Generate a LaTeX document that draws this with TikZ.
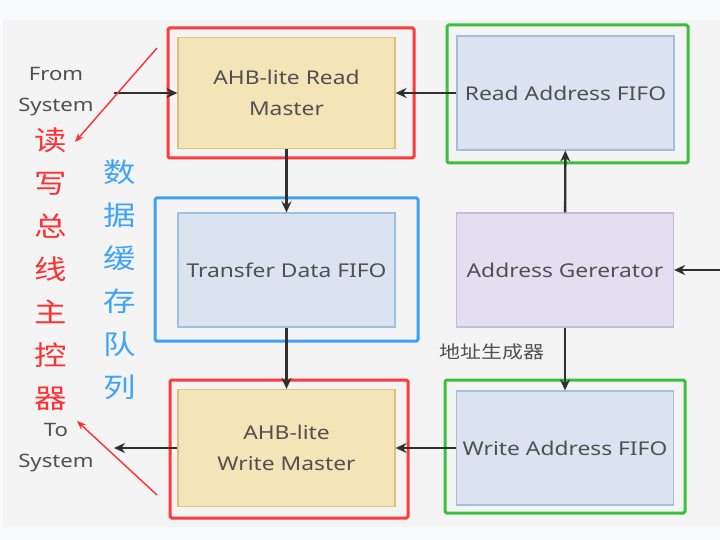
\documentclass[tikz,border=0pt]{standalone}
\usepackage{fontspec}
\setmainfont[FakeStretch=1.2]{Noto Sans}
\newfontfamily\cjk[FakeStretch=1.2]{Noto Sans CJK SC}
\usepackage{tikz}
\usetikzlibrary{
  arrows,
  arrows.meta,
  chains,
  scopes,
  positioning
}
\definecolor{bgout}{HTML}{F9FAFB}
\definecolor{panel}{HTML}{F4F4F4}
\definecolor{txtgray}{HTML}{505050}
\definecolor{wirecol}{HTML}{303030}
\definecolor{redframe}{HTML}{FF3B3B}
\definecolor{greenframe}{HTML}{3CBF3C}
\definecolor{blueframe}{HTML}{3DA2F7}
\definecolor{notered}{HTML}{FF3030}
\definecolor{noteblue}{HTML}{3FA4F8}
\definecolor{masterfill}{HTML}{F3E5B7}
\definecolor{masterdraw}{HTML}{DCC27A}
\definecolor{fifofill}{HTML}{DBE3F0}
\definecolor{fifodraw}{HTML}{9DC1DF}
\definecolor{genfill}{HTML}{E4DFF0}
\definecolor{gendraw}{HTML}{C9BADD}

\begin{document}
\begin{tikzpicture}[x=1pt,y=-1pt,
      master/.style={
         rectangle,
         minimum width=217pt,
         minimum height=112pt,
         line width=1.2pt,
         draw=masterdraw,
         fill=masterfill,
         text=txtgray,
         align=center,
         font=\fontsize{19}{31}\selectfont
      },
      fifo/.style={
         master,
         draw=fifodraw,
         fill=fifofill,
         minimum height=114pt
      },
      gen/.style={
         fifo,
         draw=gendraw,
         fill=genfill
      },
      frame/.style={
         rectangle,
         rounded corners=1.5pt,
         line width=3pt,
         draw=#1
      },
      label/.style={
         text=txtgray,
         align=center,
         font=\fontsize{18.5}{31}\selectfont
      },
      vtext/.style={
         text=#1,
         align=center,
         font=\cjk\fontsize{27}{43}\selectfont
      },
      point/.style={coordinate},>={Stealth[length=11pt,width=10pt]},
      tip/.style={->,line width=2.4pt,draw=wirecol},
      note/.style={-{Stealth[length=9pt,width=7pt]},line width=1.4pt,draw=notered}
    ]
    % background
    \fill[bgout] (0,0) rectangle (720,540);
    \fill[panel] (3,20) rectangle (720,527);
    \useasboundingbox (0,0) rectangle (720,540);

    % frames
    \node (frm1) [frame=redframe, minimum width=246pt, minimum height=130pt] at (291,93) {};
    \node (frm2) [frame=greenframe, minimum width=241pt, minimum height=138pt] at (567.5,94) {};
    \node (frm3) [frame=blueframe, minimum width=263pt, minimum height=143pt] at (286.5,269.5) {};
    \node (frm4) [frame=greenframe, minimum width=240pt, minimum height=133pt] at (565,446.5) {};
    \node (frm5) [frame=redframe, minimum width=238pt, minimum height=138pt] at (289,449) {};

    % blocks
    \node (rdm) [master, minimum height=111pt] at (286.5,93) {AHB-lite Read\\Master};
    \node (rdf) [fifo] at (565.5,93) {Read Address FIFO};
    \node (tdf) [fifo] at (286.5,270) {Transfer Data FIFO};
    \node (agen) [gen] at (565,270) {Address Gererator};
    \node (wrf) [fifo] at (565,448) {Write Address FIFO};
    \node (wrm) [master, minimum height=117pt] at (286.5,448) {AHB-lite\\Write Master};

    % outside ends
    \node (fromsys) [point] at (114,93) {};
    \node (tosys) [point] at (114,448) {};
    \node (extin) [point] at (724,270) {};

    % texts
    \node (fromlbl) [label] at (56,92) {From\\System};
    \node (tolbl) [label] at (56,448) {To\\System};
    \node (busctl) [vtext=notered] at (51,269) {读\\写\\总\\线\\主\\控\\器};
    \node (bufq) [vtext=noteblue] at (120,280) {数\\据\\缓\\存\\队\\列};
    \node (genlbl) [text=txtgray, font=\cjk\fontsize{17.5}{20}\selectfont] at (492,352) {地址生成器};

    \node (n1) [point] at (157,48) {};
    \node (n2) [point] at (75,142) {};
    \node (n3) [point] at (157,495) {};
    \node (n4) [point] at (77,421) {};

  { [start chain]
       \chainin (fromsys);
       \chainin (rdm)    [join=by tip];
  }
  { [start chain]
       \chainin (rdf);
       \chainin (rdm)    [join=by tip];
  }
  { [start chain]
       \chainin (rdm);
       \chainin (tdf)    [join=by tip];
  }
  { [start chain]
       \chainin (tdf);
       \chainin (wrm)    [join=by tip];
  }
  { [start chain]
       \chainin (agen);
       \chainin (rdf)    [join=by tip];
  }
  { [start chain]
       \chainin (agen);
       \chainin (wrf)    [join=by tip];
  }
  { [start chain]
       \chainin (wrf);
       \chainin (wrm)    [join=by tip];
  }
  { [start chain]
       \chainin (wrm);
       \chainin (tosys)    [join=by tip];
  }
  { [start chain]
       \chainin (extin);
       \chainin (agen)    [join=by tip];
  }
  \draw[note] (n1) -- (n2);
  \draw[note] (n3) -- (n4);
\end{tikzpicture}
\end{document}
